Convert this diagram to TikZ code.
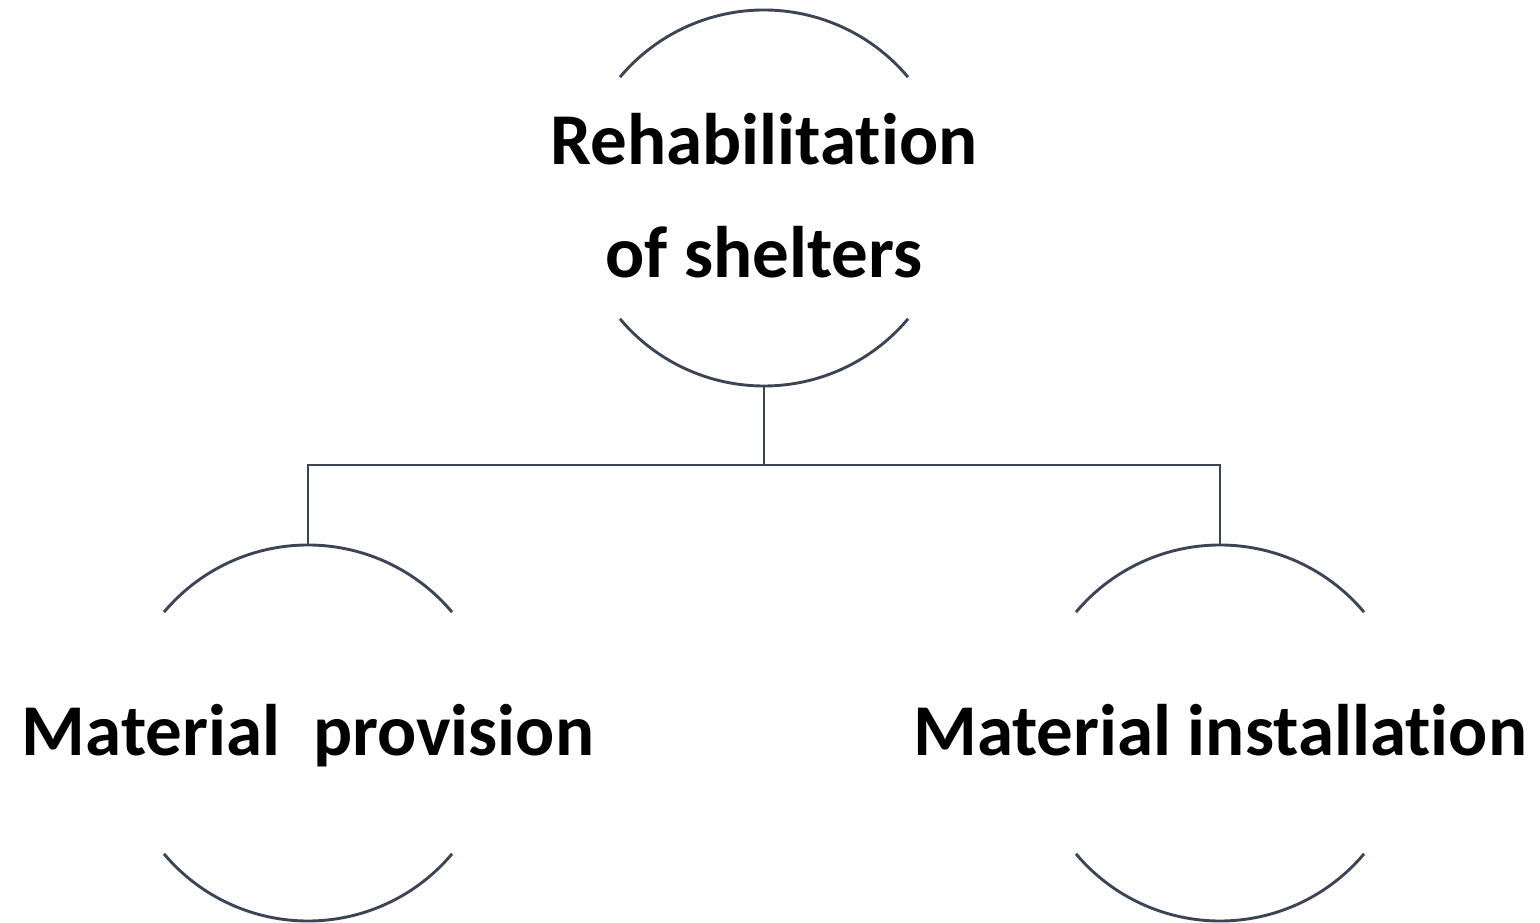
\documentclass[tikz,border=0pt]{standalone}
\usepackage{fontspec}
\setmainfont{Carlito}[Ligatures=CommonOff]
\definecolor{linegray}{HTML}{3B4555}

\begin{document}
\begin{tikzpicture}[x=1pt,y=1pt]
 \tikzset{ring/.style={circle,minimum size=376pt,inner sep=0pt}, %円
  caption/.style={font=\fontsize{73}{113}\selectfont\bfseries,anchor=base,inner sep=0pt}, %文字
  conn/.style={draw=linegray,line width=2.9pt}} %線
 \useasboundingbox (0,0) rectangle (1540,922); %枠

 \node[ring] (rehab) at (764,724) {}; %上
 \node[ring] (prov) at (308,189) {}; %左下
 \node[ring] (inst) at (1220,189) {}; %右下
 \coordinate (split) at (764,457); %分岐

 \foreach \c in {rehab,prov,inst}{
  \draw[conn] ([shift={(40:188)}]\c.center) arc (40:140:188);
  \draw[conn] ([shift={(220:188)}]\c.center) arc (220:320:188);
 }

 \node[caption] (rehabTop) at ([yshift=33]rehab.center) {Rehabilitation};
 \node[caption] (rehabBot) at ([yshift=-80]rehab.center) {of shelters};
 \node[caption] (provText) at ([yshift=-22]prov.center) {Material\ \ provision};
 \node[caption] (instText) at ([yshift=-22]inst.center) {Material installation};

 \draw[conn] (rehab.south) -- (split);
 \draw[conn] (prov.north) |- (split) -| (inst.north);
\end{tikzpicture}
\end{document}
